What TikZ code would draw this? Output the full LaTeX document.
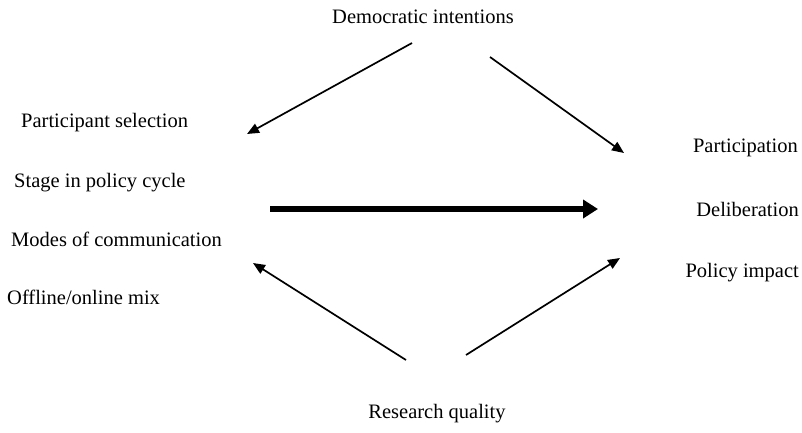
\documentclass[tikz,border=0pt]{standalone}
\usepackage{fontspec}
\setmainfont{Liberation Serif}
\usetikzlibrary{arrows.meta}
\begin{document}
\begin{tikzpicture}[x=1pt,y=-1pt,
  lbl/.style={inner sep=0pt,font=\fontsize{20.5}{23}\selectfont},
  thin arrow/.style={line width=1.7pt,-{Triangle[length=12pt,width=10pt]}},
  main arrow/.style={line width=6pt,-{Triangle[length=15pt,width=18pt]}}]
\useasboundingbox (0,0) rectangle (802,432);

% headings above and below
\node[lbl,anchor=base] (dem) at (423,23) {Democratic intentions};
\node[lbl,anchor=base] (res) at (437,418) {Research quality};

% design factors on the left
\node[lbl,anchor=base west] (sel) at (21,127) {Participant selection};
\node[lbl,anchor=base west] (stage) at (14,187) {Stage in policy cycle};
\node[lbl,anchor=base west] (modes) at (11,246) {Modes of communication};
\node[lbl,anchor=base west] (mix) at (7,304) {Offline/online mix};

% outcomes on the right
\node[lbl,anchor=base east] (part) at (798,152) {Participation};
\node[lbl,anchor=base east] (delib) at (799,216) {Deliberation};
\node[lbl,anchor=base east] (impact) at (799,277) {Policy impact};

% arrow end points
\coordinate (d1) at (412,43);
\coordinate (d1e) at (247,134);
\coordinate (d2) at (490,57);
\coordinate (d2e) at (624,153);
\coordinate (m1) at (270,209);
\coordinate (m1e) at (598,209);
\coordinate (r1) at (406,360);
\coordinate (r1e) at (253,263);
\coordinate (r2) at (466,355);
\coordinate (r2e) at (620,258);

\draw[thin arrow] (d1) -- (d1e);
\draw[thin arrow] (d2) -- (d2e);
\draw[main arrow] (m1) -- (m1e);
\draw[thin arrow] (r1) -- (r1e);
\draw[thin arrow] (r2) -- (r2e);
\end{tikzpicture}
\end{document}
